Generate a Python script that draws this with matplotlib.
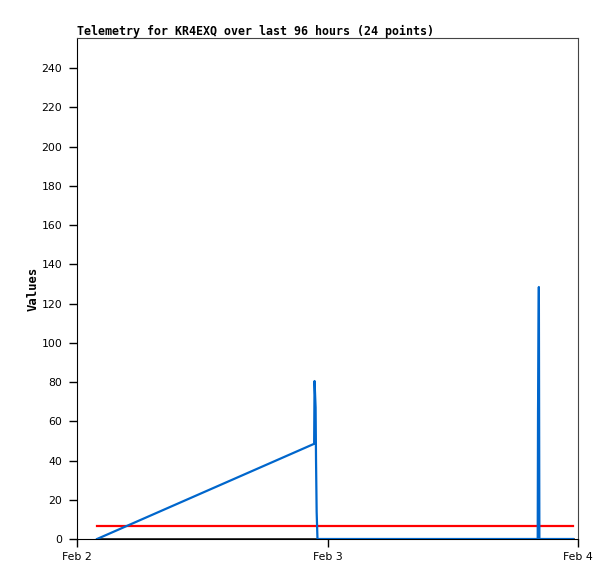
import matplotlib
matplotlib.use("Agg")
import matplotlib.pyplot as plt

# hours after Feb 2 00:00
blue_t = [1.92, 22.72, 22.76, 22.86, 22.90, 22.96, 23.04, 44.14, 44.17, 44.25, 44.30, 47.52]
blue_v = [0, 48.5, 80.5, 67, 40.7, 13.8, 0, 0, 64.7, 128.4, 0, 0]
red_t = [1.92, 47.52]
red_v = [6.6, 6.6]
black_t = [1.92, 47.52]
black_v = [0, 0]
xtick_pos = [0, 24, 48]
xtick_labels = ["Feb 2", "Feb 3", "Feb 4"]
ytick_pos = list(range(0, 241, 20))
title = "Telemetry for KR4EXQ over last 96 hours (24 points)"

fig = plt.figure(figsize=(6.15, 5.79), dpi=100)
ax = fig.add_axes([77/615, 1-539/579, 501/615, 501/579])

ax.plot(black_t, black_v, color="black", lw=1.8, zorder=2)
ax.plot(red_t, red_v, color="#ff0000", lw=1.6, zorder=3)
ax.plot(blue_t, blue_v, color="#0066cc", lw=1.6, zorder=4)

ax.set_xlim(0, 48)
ax.set_ylim(0, 255.3)
ax.set_xticks(xtick_pos)
ax.set_xticklabels(xtick_labels)
ax.set_yticks(ytick_pos)
ax.tick_params(axis="both", labelsize=7.8, width=1, color="black")
ax.tick_params(axis="y", length=5.5, pad=5)
ax.tick_params(axis="x", length=6, pad=3)

for s in ["top", "right"]:
    ax.spines[s].set_color("#444444")
for s in ["left", "bottom"]:
    ax.spines[s].set_color("black")

ax.set_ylabel("Values", family="DejaVu Sans Mono", fontweight="bold", fontsize=8.8, labelpad=1)
ax.set_title(title, family="DejaVu Sans Mono", fontweight="bold", fontsize=8.4, loc="left", pad=2)

fig.savefig("out.png", dpi=100)
